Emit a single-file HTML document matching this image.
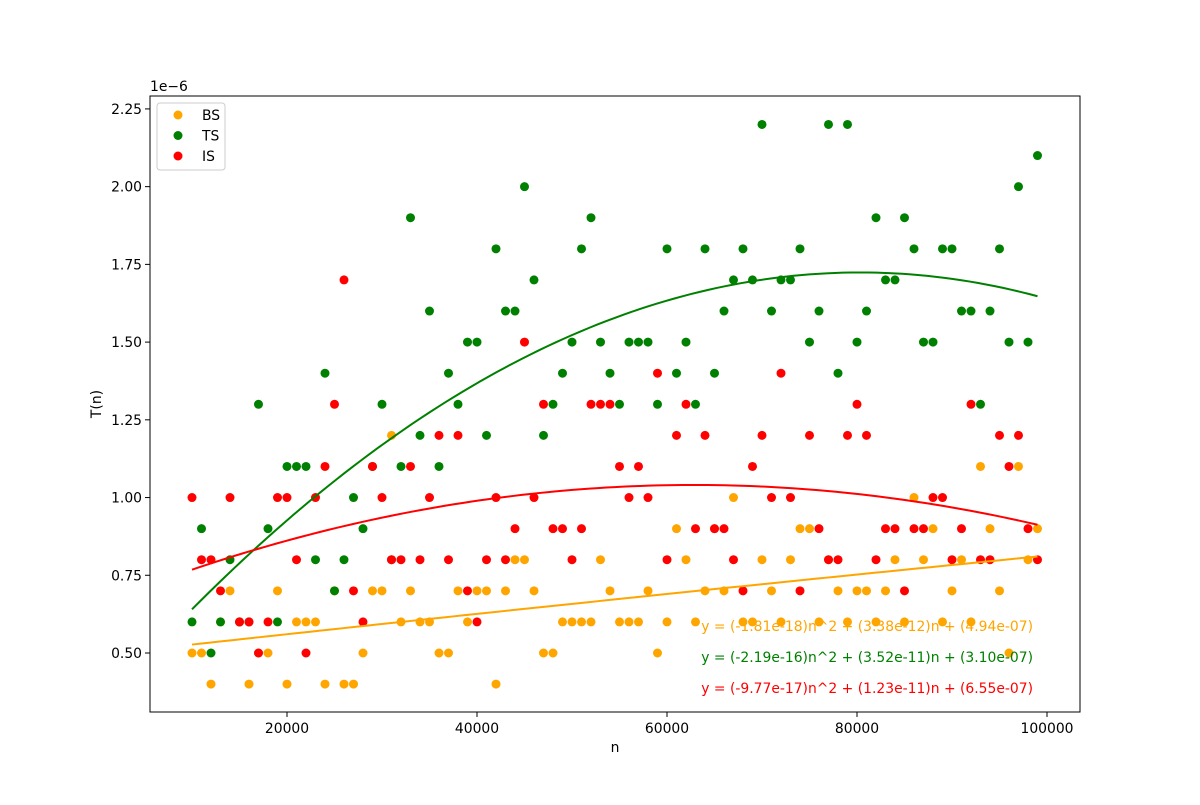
<!DOCTYPE html>
<html><head><meta charset="utf-8"><style>
body{margin:0;background:#fff;}
svg text{font-family:"DejaVu Sans","Liberation Sans",sans-serif;}
</style></head><body>
<svg id="chart" width="1200" height="800" xmlns="http://www.w3.org/2000/svg">
<rect width="1200" height="800" fill="#fff"/>
<g id="plot"></g>
</svg>
<script>
const nValues = [];
for (let k = 0; k < 90; k++) nValues.push(10000 + 1000 * k);
const bsValues = [0.5,0.5,0.4,0.6,0.7,0.6,0.4,0.5,0.5,0.7,0.4,0.6,0.6,0.6,0.4,0.7,0.4,0.4,0.5,0.7,0.7,1.2,0.6,0.7,0.6,
0.6,0.5,0.5,0.7,0.6,0.7,0.7,0.4,0.7,0.8,0.8,0.7,0.5,0.5,0.6,0.6,0.6,0.6,0.8,0.7,0.6,0.6,0.6,0.7,
0.5,0.6,0.9,0.8,0.6,0.7,0.9,0.7,1.0,0.6,0.6,0.8,0.7,0.6,0.8,0.9,0.9,0.6,0.8,0.7,0.6,0.7,0.7,0.6,
0.7,0.8,0.6,1.0,0.8,0.9,0.6,0.7,0.8,0.6,1.1,0.9,0.7,0.5,1.1,0.8,0.9];
const tsValues = [0.6,0.9,0.5,0.6,0.8,0.6,0.6,1.3,0.9,0.6,1.1,1.1,1.1,0.8,1.4,0.7,0.8,1.0,0.9,1.1,1.3,0.8,1.1,1.9,1.2,
1.6,1.1,1.4,1.3,1.5,1.5,1.2,1.8,1.6,1.6,2.0,1.7,1.2,1.3,1.4,1.5,1.8,1.9,1.5,1.4,1.3,1.5,1.5,1.5,
1.3,1.8,1.4,1.5,1.3,1.8,1.4,1.6,1.7,1.8,1.7,2.2,1.6,1.7,1.7,1.8,1.5,1.6,2.2,1.4,2.2,1.5,1.6,1.9,
1.7,1.7,1.9,1.8,1.5,1.5,1.8,1.8,1.6,1.6,1.3,1.6,1.8,1.5,2.0,1.5,2.1];
const isValues = [1.0,0.8,0.8,0.7,1.0,0.6,0.6,0.5,0.6,1.0,1.0,0.8,0.5,1.0,1.1,1.3,1.7,0.7,0.6,1.1,1.0,0.8,0.8,1.1,0.8,
1.0,1.2,0.8,1.2,0.7,0.6,0.8,1.0,0.8,0.9,1.5,1.0,1.3,0.9,0.9,0.8,0.9,1.3,1.3,1.3,1.1,1.0,1.1,1.0,
1.4,0.8,1.2,1.3,0.9,1.2,0.9,0.9,0.8,0.7,1.1,1.2,1.0,1.4,1.0,0.7,1.2,0.9,0.8,0.8,1.2,1.3,1.2,0.8,
0.9,0.9,0.7,0.9,0.9,1.0,1.0,0.8,0.9,1.3,0.8,0.8,1.2,1.1,1.2,0.9,0.8];
const xTicks = [20000,40000,60000,80000,100000];
const yTicks = [0.5,0.75,1.0,1.25,1.5,1.75,2.0,2.25];
const yTickLabels = ["0.50","0.75","1.00","1.25","1.50","1.75","2.00","2.25"];
const seriesNames = ["BS","TS","IS"];
const eqLabels = ["y = (-1.81e-18)n^2 + (3.38e-12)n + (4.94e-07)",
"y = (-2.19e-16)n^2 + (3.52e-11)n + (3.10e-07)",
"y = (-9.77e-17)n^2 + (1.23e-11)n + (6.55e-07)"];

const L=150,R=1080,T=96,B=712;
const xs = n => 287 + (n-20000)*0.0095;
const ys = v => 653 - (v-0.5)*310.9;
const NS='http://www.w3.org/2000/svg';
const g=document.getElementById('plot');
function mk(tag,attrs,parent){const e=document.createElementNS(NS,tag);for(const k in attrs)e.setAttribute(k,attrs[k]);(parent||g).appendChild(e);return e;}

// axes frame
const frame=mk('rect',{x:L,y:T,width:R-L,height:B-T,fill:'none',stroke:'#000','stroke-width':1});



xTicks.forEach(t=>{
  const x=xs(t);
  const ln=mk('line',{x1:x,x2:x,y1:B,y2:B+5,stroke:'#000'});
  
  
  const tx=mk('text',{x:x,y:B+21,'text-anchor':'middle','font-size':'13.9'});
  tx.textContent=String(t);
  
  
});
yTicks.forEach((t,i)=>{
  const y=ys(t);
  const ln=mk('line',{x1:L-5,x2:L,y1:y,y2:y,stroke:'#000'});
  
  
  const tx=mk('text',{x:L-8,y:y+5,'text-anchor':'end','font-size':'13.9'});
  tx.textContent=yTickLabels[i];
  
  
});
let t=mk('text',{x:150,y:91,'font-size':'13.9'});t.textContent='1e\u22126';


t=mk('text',{x:615,y:752,'text-anchor':'middle','font-size':'13.9'});t.textContent='n';


t=mk('text',{x:0,y:0,'text-anchor':'middle','font-size':'13.9',transform:'translate(101,404) rotate(-90)'});t.textContent='T(n)';



const colors=['#ffa500','#008000','#ff0000'];
const allSeries=[bsValues,tsValues,isValues];
allSeries.forEach((vals,si)=>{
  vals.forEach((v,i)=>{
    const c=mk('circle',{cx:xs(nValues[i]),cy:ys(v),r:4.5,fill:colors[si]});
    
    
  });
});

function polyfit2(xv,yv){
  let S=[0,0,0,0,0],Ty=[0,0,0];
  for(let i=0;i<xv.length;i++){const x=xv[i]/1e4;let p=1;for(let k=0;k<5;k++){S[k]+=p;if(k<3)Ty[k]+=yv[i]*p;p*=x;}}
  const A=[[S[0],S[1],S[2],Ty[0]],[S[1],S[2],S[3],Ty[1]],[S[2],S[3],S[4],Ty[2]]];
  for(let i=0;i<3;i++){for(let j=i+1;j<3;j++){const f=A[j][i]/A[i][i];for(let k=i;k<4;k++)A[j][k]-=f*A[i][k];}}
  const c=[0,0,0];
  for(let i=2;i>=0;i--){let s=A[i][3];for(let k=i+1;k<3;k++)s-=A[i][k]*c[k];c[i]=s/A[i][i];}
  return x=>{const u=x/1e4;return c[0]+c[1]*u+c[2]*u*u;};
}
allSeries.forEach((vals,si)=>{
  const f=polyfit2(nValues,vals);
  let d='';
  const n0=nValues[0],n1=nValues[nValues.length-1];
  for(let s=0;s<=100;s++){const n=n0+(n1-n0)*s/100;d+=(s?'L':'M')+xs(n).toFixed(2)+','+ys(f(n)).toFixed(2);}
  const p=mk('path',{d:d,fill:'none',stroke:colors[si],'stroke-width':2});
  
  
});
eqLabels.forEach((s,i)=>{
  const tx=mk('text',{x:1033,y:631+i*31,'text-anchor':'end','font-size':'13.9',fill:colors[i]});
  tx.textContent=s;
  
  
});

// legend
const lg=mk('g',{});


mk('rect',{x:157,y:103,width:68,height:67,rx:3,fill:'#fff',stroke:'#ccc'},lg);
seriesNames.forEach((s,i)=>{
  const e=mk('g',{},lg);
  
  
  mk('circle',{cx:178,cy:115+i*20.5,r:4.5,fill:colors[i]},e);
  const tx=mk('text',{x:202,y:120+i*20.5,'font-size':'13.9'},e);
  tx.textContent=s;
});
</script>
</body></html>
